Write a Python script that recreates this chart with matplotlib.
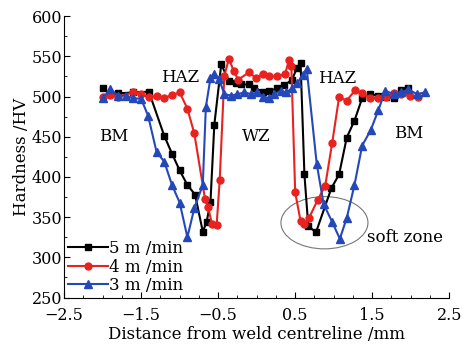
import matplotlib
matplotlib.use("Agg")
import matplotlib.pyplot as plt
from matplotlib.patches import Ellipse
from matplotlib.ticker import MultipleLocator, FixedLocator

plt.rcParams['font.family'] = ['DejaVu Serif']
plt.rcParams['mathtext.fontset'] = 'dejavuserif'

# ------ hardness profiles
x_5 = [-2.0, -1.9, -1.8, -1.6, -1.4, -1.2, -1.1, -1.0, -0.9, -0.8, -0.7, -0.65,
       -0.6, -0.55, -0.46, -0.36, -0.27, -0.2, -0.1, -0.03, 0.08, 0.16, 0.27,
       0.36, 0.46, 0.52, 0.57, 0.62, 0.67, 0.77, 0.97, 1.07, 1.17, 1.27, 1.37,
       1.47, 1.58, 1.68, 1.78, 1.88, 1.97]
hv_5 = [510, 503, 504, 505, 506, 451, 429, 408, 390, 378, 332, 344,
        369, 465, 540, 519, 517, 515, 515, 511, 506, 507, 510,
        514, 521, 535, 542, 403, 339, 331, 386, 403, 449, 470, 498,
        503, 501, 500, 498, 508, 510]

x_4 = [-2.0, -1.9, -1.8, -1.6, -1.5, -1.4, -1.3, -1.2, -1.1, -1.0, -0.9, -0.81,
       -0.67, -0.63, -0.58, -0.52, -0.48, -0.42, -0.36, -0.3, -0.24, -0.1,
       -0.01, 0.08, 0.16, 0.26, 0.37, 0.42, 0.45, 0.5, 0.57, 0.62, 0.68, 0.79,
       0.89, 0.98, 1.07, 1.17, 1.28, 1.37, 1.47, 1.58, 1.68, 1.78, 1.88, 1.99,
       2.1]
hv_4 = [499, 502, 500, 505, 503, 499, 501, 498, 502, 505, 485, 454,
        372, 362, 341, 340, 396, 526, 547, 532, 521, 530,
        523, 528, 525, 525, 528, 546, 538, 381, 345, 341, 349, 371,
        389, 442, 499, 495, 508, 504, 498, 498, 499, 504, 503, 501,
        499]

x_3 = [-2.0, -1.9, -1.8, -1.7, -1.6, -1.5, -1.41, -1.3, -1.2, -1.1, -1.0, -0.9,
       -0.81, -0.7, -0.66, -0.6, -0.55, -0.49, -0.42, -0.33, -0.25, -0.16,
       -0.07, 0.01, 0.08, 0.16, 0.23, 0.31, 0.38, 0.46, 0.53, 0.6, 0.65, 0.78,
       0.87, 0.98, 1.08, 1.17, 1.27, 1.37, 1.48, 1.58, 1.67, 1.78, 1.88, 1.97,
       2.08, 2.18]
hv_3 = [498, 509, 501, 501, 498, 497, 476, 431, 419, 390, 368, 325,
        361, 390, 487, 523, 528, 522, 503, 501, 503, 505,
        503, 505, 500, 498, 503, 507, 505, 510, 517, 527, 534, 416,
        366, 344, 323, 349, 390, 439, 458, 483, 507, 503, 505, 509,
        503, 505]

labels = ['5 m /min', '4 m /min', '3 m /min']

fig = plt.figure(figsize=(4.65, 3.5), dpi=100)
ax = fig.add_axes([0.138, 0.15, 0.828, 0.804])

ax.plot(x_5, hv_5, '-s', color='black', lw=1.5, ms=4.5, label=labels[0])
ax.plot(x_4, hv_4, '-o', color='#e8221f', lw=1.5, ms=5, label=labels[1])
ax.plot(x_3, hv_3, '-^', color='#2548b8', lw=1.5, ms=5.5, label=labels[2])

ax.add_patch(Ellipse((0.88, 343), 1.13, 65, fill=False, edgecolor='#777777', lw=0.8))

ax.text(-0.99, 524, 'HAZ', fontsize=12, ha='center', va='center')
ax.text(1.04, 523, 'HAZ', fontsize=12, ha='center', va='center')
ax.text(-1.85, 450, 'BM', fontsize=12, ha='center', va='center')
ax.text(0.0, 450, 'WZ', fontsize=12, ha='center', va='center')
ax.text(1.98, 454, 'BM', fontsize=12, ha='center', va='center')
ax.text(1.92, 325, 'soft zone', fontsize=12, ha='center', va='center')

ax.set_xlim(-2.5, 2.5)
ax.set_ylim(250, 600)
ax.xaxis.set_major_locator(FixedLocator([-2.5, -1.5, -0.5, 0.5, 1.5, 2.5]))
ax.xaxis.set_minor_locator(MultipleLocator(0.25))
ax.yaxis.set_major_locator(MultipleLocator(50))
ax.yaxis.set_minor_locator(MultipleLocator(25))
ax.tick_params(which='both', direction='in', labelsize=11.5)
ax.tick_params(axis='y', pad=1.5)
ax.tick_params(axis='x', pad=7)
ax.tick_params(which='major', length=4)
ax.tick_params(which='minor', length=2.5)
ax.spines['top'].set_visible(False)
ax.spines['right'].set_visible(False)

ax.set_xlabel('Distance from weld centreline /mm', fontsize=12, labelpad=1)
ax.set_ylabel('Hardness /HV', fontsize=12, labelpad=1)

ax.legend(loc='lower left', frameon=False, fontsize=12, handlelength=2.4,
          handletextpad=0.1, borderpad=0.1, labelspacing=0.1, borderaxespad=0.1)

fig.savefig('out.png', dpi=100)
